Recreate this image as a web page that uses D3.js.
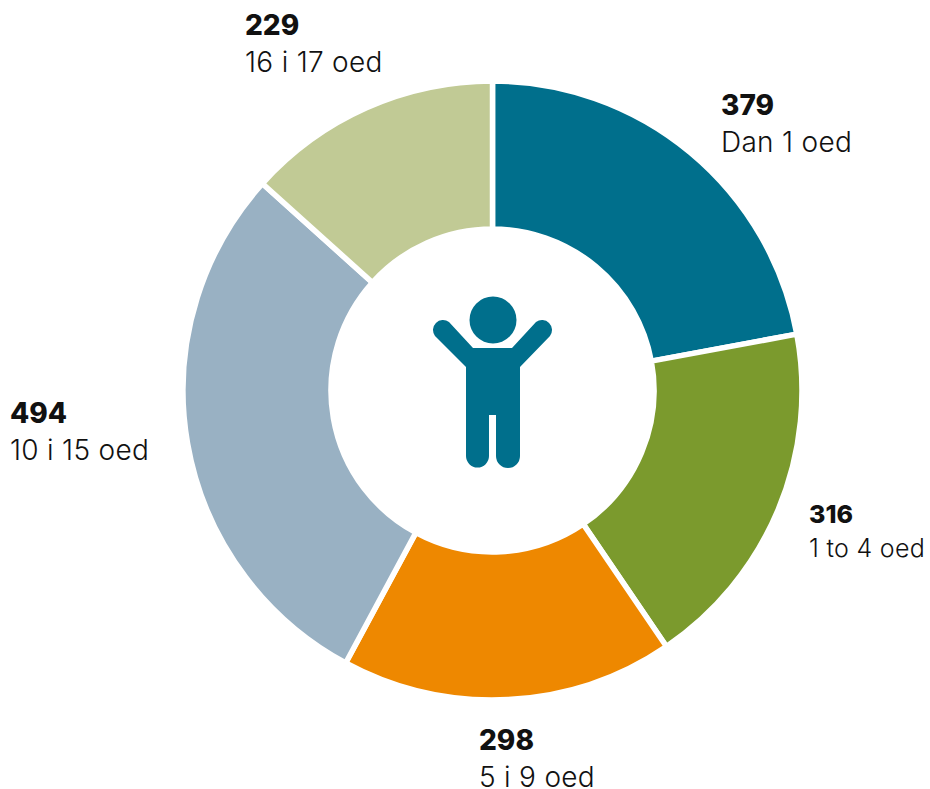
<!DOCTYPE html>
<html><head><meta charset="utf-8"><script src="https://cdnjs.cloudflare.com/ajax/libs/d3/7.8.5/d3.min.js"></script>
<style>html,body{margin:0;background:#fff}svg{display:block}text{font-family:Inter,Lato,sans-serif;fill:#111}</style></head>
<body><svg id="c" width="930" height="789"></svg>
<script>
const categories=["Dan 1 oed","1 to 4 oed","5 i 9 oed","10 i 15 oed","16 i 17 oed"];
const values=[379,316,298,494,229];
const colors=["#006f8c","#7b9a2d","#ee8800","#99b1c3","#c1ca95"];
const labelX=[721,809,479,10,245];
const labelY=[115,523,750,423,35];
const subY=[152,557,787,460,72];
const numSize=[28,25,28,28,28];
const subSize=[28,25,28,28,28];
const svg=d3.select("#c");
const cx=492.5,cy=390.5;
const g=svg.append("g").attr("transform",`translate(${cx},${cy})`);
const pie=d3.pie().sort(null)(values);
const arc=d3.arc().innerRadius(161.5).outerRadius(309.5);
g.selectAll("path.s").data(pie).join("path").attr("class","s").attr("d",arc).attr("fill",(d,i)=>colors[i]).attr("stroke","#fff").attr("stroke-width",5.5);
const icon=svg.append("g").attr("fill","#006f8c").attr("stroke","none");
icon.append("circle").attr("cx",493).attr("cy",320).attr("r",23.5);
icon.append("path").attr("d","M466 367 L466 456 A11.5 11.5 0 0 0 489 456 L489 415 L496 415 L496 456 A12 12 0 0 0 520 456 L520 367 L550 336 A10 10 0 0 0 536 322 L512 348 L473 348 L449 322 A10 10 0 0 0 435 336 Z");
const t=svg.selectAll("g.l").data(categories).join("g").attr("class","l");
t.append("text").attr("x",(d,i)=>labelX[i]).attr("y",(d,i)=>labelY[i]).attr("font-size",(d,i)=>numSize[i]).attr("font-weight",800).text((d,i)=>values[i]);
t.append("text").attr("x",(d,i)=>labelX[i]).attr("y",(d,i)=>subY[i]).attr("font-size",(d,i)=>subSize[i]).attr("font-weight",300).attr("letter-spacing",0.3).text(d=>d);
</script></body></html>
